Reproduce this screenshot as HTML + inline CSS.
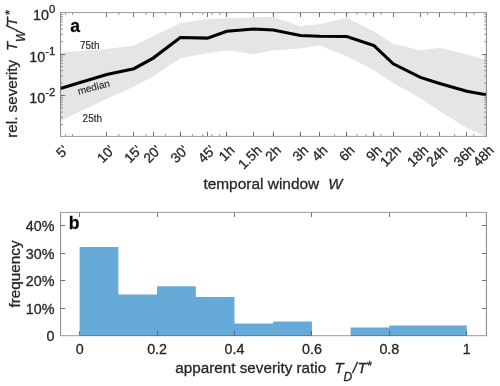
<!DOCTYPE html>
<html><head><meta charset="utf-8"><title>figure</title>
<style>html,body{margin:0;padding:0;background:#fff;}body{width:500px;height:386px;overflow:hidden;position:relative;font-family:"Liberation Sans",sans-serif;}</style>
</head><body>
<svg width="500" height="386" viewBox="0 0 500 386" style="position:absolute;left:0;top:0;will-change:transform">
<polygon fill="#e5e5e5" points="60.3,52.4 106.73,49 133.9,45.6 153.17,36 180.33,23.2 207.49,19.1 226.77,18.3 253.93,17.3 273.2,17 300.36,26.1 319.63,24.3 346.8,17.8 373.96,31.6 393.23,43.8 420.39,50.4 439.67,47.7 466.83,54.5 486.1,59.8 486.1,136.4 466.83,127.9 439.67,111 420.39,98.2 393.23,83 373.96,70.3 346.8,56.3 319.63,45.6 300.36,48.5 273.2,50.3 253.93,54.2 226.77,50.3 207.49,52.9 180.33,58.2 153.17,76.3 133.9,86.7 106.73,98.8 60.3,121"/>
<polyline fill="none" stroke="#000" stroke-width="3.1" stroke-linejoin="miter" points="60.3,88.6 106.73,74.6 133.9,68.7 153.17,58.1 180.33,37.5 207.49,38.1 226.77,31.3 253.93,29 273.2,30 300.36,35.5 319.63,36.3 346.8,36.5 373.96,45.6 393.23,63.8 420.39,77.4 439.67,83.4 466.83,91.2 486.1,94.7"/>
<path d="M65.46 136.4v-2.3M65.46 12.6v2.3M72.51 136.4v-2.3M72.51 12.6v2.3M118.95 136.4v-2.3M118.95 12.6v2.3M146.11 136.4v-2.3M146.11 12.6v2.3M165.38 136.4v-2.3M165.38 12.6v2.3M180.33 136.4v-2.3M180.33 12.6v2.3M192.55 136.4v-2.3M192.55 12.6v2.3M202.87 136.4v-2.3M202.87 12.6v2.3M211.82 136.4v-2.3M211.82 12.6v2.3M219.71 136.4v-2.3M219.71 12.6v2.3M226.77 136.4v-2.3M226.77 12.6v2.3M273.2 136.4v-2.3M273.2 12.6v2.3M300.36 136.4v-2.3M300.36 12.6v2.3M319.63 136.4v-2.3M319.63 12.6v2.3M334.58 136.4v-2.3M334.58 12.6v2.3M346.8 136.4v-2.3M346.8 12.6v2.3M357.12 136.4v-2.3M357.12 12.6v2.3M366.07 136.4v-2.3M366.07 12.6v2.3M373.96 136.4v-2.3M373.96 12.6v2.3M381.02 136.4v-2.3M381.02 12.6v2.3M427.45 136.4v-2.3M427.45 12.6v2.3M454.61 136.4v-2.3M454.61 12.6v2.3M473.89 136.4v-2.3M473.89 12.6v2.3M60.6 41.61h2.3M486.4 41.61h-2.3M60.6 34.3h2.3M486.4 34.3h-2.3M60.6 29.11h2.3M486.4 29.11h-2.3M60.6 25.09h2.3M486.4 25.09h-2.3M60.6 21.81h2.3M486.4 21.81h-2.3M60.6 19.03h2.3M486.4 19.03h-2.3M60.6 16.62h2.3M486.4 16.62h-2.3M60.6 14.5h2.3M486.4 14.5h-2.3M60.6 83.11h2.3M486.4 83.11h-2.3M60.6 75.8h2.3M486.4 75.8h-2.3M60.6 70.61h2.3M486.4 70.61h-2.3M60.6 66.59h2.3M486.4 66.59h-2.3M60.6 63.31h2.3M486.4 63.31h-2.3M60.6 60.53h2.3M486.4 60.53h-2.3M60.6 58.12h2.3M486.4 58.12h-2.3M60.6 56h2.3M486.4 56h-2.3M60.6 124.61h2.3M486.4 124.61h-2.3M60.6 117.3h2.3M486.4 117.3h-2.3M60.6 112.11h2.3M486.4 112.11h-2.3M60.6 108.09h2.3M486.4 108.09h-2.3M60.6 104.81h2.3M486.4 104.81h-2.3M60.6 102.03h2.3M486.4 102.03h-2.3M60.6 99.62h2.3M486.4 99.62h-2.3M60.6 97.5h2.3M486.4 97.5h-2.3" stroke="#6c6c6c" stroke-width="0.7" fill="none"/>
<path d="M106.5 136.4v-4.6M106.5 12.6v4.6M133.5 136.4v-4.6M133.5 12.6v4.6M153.5 136.4v-4.6M153.5 12.6v4.6M180.5 136.4v-4.6M180.5 12.6v4.6M207.5 136.4v-4.6M207.5 12.6v4.6M226.5 136.4v-4.6M226.5 12.6v4.6M253.5 136.4v-4.6M253.5 12.6v4.6M273.5 136.4v-4.6M273.5 12.6v4.6M300.5 136.4v-4.6M300.5 12.6v4.6M319.5 136.4v-4.6M319.5 12.6v4.6M346.5 136.4v-4.6M346.5 12.6v4.6M373.5 136.4v-4.6M373.5 12.6v4.6M393.5 136.4v-4.6M393.5 12.6v4.6M420.5 136.4v-4.6M420.5 12.6v4.6M439.5 136.4v-4.6M439.5 12.6v4.6M466.5 136.4v-4.6M466.5 12.6v4.6M60.6 54.5h4.6M486.4 54.5h-4.6M60.6 95.5h4.6M486.4 95.5h-4.6" stroke="#4c4c4c" stroke-width="0.8" fill="none"/>
<path d="M60.15 12.6H486.85M60.15 136.4H486.85" stroke="#8e8e8e" stroke-width="0.9" fill="none"/>
<path d="M60.6 12.6V136.4M486.4 12.6V136.4" stroke="#787878" stroke-width="0.9" fill="none"/>
<path d="M79.5 335.7v-4.6M79.5 212.4v4.6M157.5 335.7v-4.6M157.5 212.4v4.6M234.5 335.7v-4.6M234.5 212.4v4.6M311.5 335.7v-4.6M311.5 212.4v4.6M389.5 335.7v-4.6M389.5 212.4v4.6M466.5 335.7v-4.6M466.5 212.4v4.6M60.6 308.5h4.6M486.4 308.5h-4.6M60.6 280.5h4.6M486.4 280.5h-4.6M60.6 253.5h4.6M486.4 253.5h-4.6M60.6 225.5h4.6M486.4 225.5h-4.6" stroke="#4c4c4c" stroke-width="0.8" fill="none"/>
<path d="M60.15 212.4H486.85M60.15 335.7H486.85" stroke="#8e8e8e" stroke-width="0.9" fill="none"/>
<path d="M60.6 212.4V335.7M486.4 212.4V335.7" stroke="#787878" stroke-width="0.9" fill="none"/>
<path d="M79.65 335.9L79.65 246.88L118.36 246.88L118.36 294.45L157.07 294.45L157.07 286.2L195.78 286.2L195.78 296.93L234.49 296.93L234.49 323.6L273.2 323.6L273.2 321.4L311.91 321.4L311.91 335.9L350.62 335.9L350.62 327.45L389.33 327.45L389.33 325.39L466.75 325.39L466.75 335.9Z" fill="#0072bd" fill-opacity="0.6"/>
<g fill="#262626" stroke="#262626" stroke-width="0.3" style="font-family:'Liberation Sans',sans-serif">
<text font-size="13.8" text-anchor="end" transform="translate(69 151.1) rotate(-45)">5'</text>
<text font-size="13.8" text-anchor="end" transform="translate(115.43 151.1) rotate(-45)">10'</text>
<text font-size="13.8" text-anchor="end" transform="translate(142.6 151.1) rotate(-45)">15'</text>
<text font-size="13.8" text-anchor="end" transform="translate(161.87 151.1) rotate(-45)">20'</text>
<text font-size="13.8" text-anchor="end" transform="translate(189.03 151.1) rotate(-45)">30'</text>
<text font-size="13.8" text-anchor="end" transform="translate(216.19 151.1) rotate(-45)">45'</text>
<text font-size="13.8" text-anchor="end" transform="translate(235.47 151.1) rotate(-45)">1h</text>
<text font-size="13.8" text-anchor="end" transform="translate(262.63 151.1) rotate(-45)">1.5h</text>
<text font-size="13.8" text-anchor="end" transform="translate(281.9 151.1) rotate(-45)">2h</text>
<text font-size="13.8" text-anchor="end" transform="translate(309.06 151.1) rotate(-45)">3h</text>
<text font-size="13.8" text-anchor="end" transform="translate(328.33 151.1) rotate(-45)">4h</text>
<text font-size="13.8" text-anchor="end" transform="translate(355.5 151.1) rotate(-45)">6h</text>
<text font-size="13.8" text-anchor="end" transform="translate(382.66 151.1) rotate(-45)">9h</text>
<text font-size="13.8" text-anchor="end" transform="translate(401.93 151.1) rotate(-45)">12h</text>
<text font-size="13.8" text-anchor="end" transform="translate(429.09 151.1) rotate(-45)">18h</text>
<text font-size="13.8" text-anchor="end" transform="translate(448.37 151.1) rotate(-45)">24h</text>
<text font-size="13.8" text-anchor="end" transform="translate(475.53 151.1) rotate(-45)">36h</text>
<text font-size="13.8" text-anchor="end" transform="translate(494.8 151.1) rotate(-45)">48h</text>
<text font-size="14.3" x="55.3" y="20" text-anchor="end">10<tspan dy="-6.8" font-size="11.4">0</tspan></text>
<text font-size="14.3" x="55.3" y="61.5" text-anchor="end">10<tspan dy="-6.8" font-size="11.4">-1</tspan></text>
<text font-size="14.3" x="55.3" y="103" text-anchor="end">10<tspan dy="-6.8" font-size="11.4">-2</tspan></text>
<text font-size="15.45" x="203.4" y="188.6">temporal window</text>
<text font-size="15" font-style="italic" x="328.2" y="188.6">W</text>
<g transform="translate(16.7 137) rotate(-90)" font-size="15">
<text x="-0.8" y="0" font-size="15.25">rel. severity</text>
<g font-style="italic"><text x="86" y="0">T</text><text x="95.1" y="8" font-size="12">W</text><text x="106.7" y="0">/</text><text x="110.6" y="0">T</text><text x="121.5" y="-2.7" font-size="13">*</text></g>
</g>
<text font-size="17.5" font-weight="bold" x="70.2" y="32.4" fill="#000">a</text>
<text font-size="10" x="80" y="48.5" stroke-width="0.15">75th</text>
<text font-size="10" x="82.6" y="122" stroke-width="0.15">25th</text>
<text font-size="10" transform="translate(78.7 94.7) rotate(-15)" stroke-width="0.15">median</text>
<text font-size="14.3" x="54.4" y="341.3" text-anchor="end">0</text>
<text font-size="14.3" x="54.4" y="313.8" text-anchor="end">10%</text>
<text font-size="14.3" x="54.4" y="286.3" text-anchor="end">20%</text>
<text font-size="14.3" x="54.4" y="258.8" text-anchor="end">30%</text>
<text font-size="14.3" x="54.4" y="231.3" text-anchor="end">40%</text>
<text font-size="14.3" x="79.65" y="354.4" text-anchor="middle">0</text>
<text font-size="14.3" x="157.07" y="354.4" text-anchor="middle">0.2</text>
<text font-size="14.3" x="234.49" y="354.4" text-anchor="middle">0.4</text>
<text font-size="14.3" x="311.91" y="354.4" text-anchor="middle">0.6</text>
<text font-size="14.3" x="389.33" y="354.4" text-anchor="middle">0.8</text>
<text font-size="14.3" x="466.75" y="354.4" text-anchor="middle">1</text>
<g font-size="15">
<text x="175.3" y="372.5" font-size="15.25">apparent severity ratio</text>
<g font-style="italic"><text x="334.6" y="372.6">T</text><text x="343.6" y="380.6" font-size="12">D</text><text x="352.8" y="372.6">/</text><text x="357.4" y="372.6">T</text><text x="366.4" y="370.2" font-size="13">*</text></g>
</g>
<text font-size="15.3" transform="translate(19.5 307.6) rotate(-90)">frequency</text>
<text font-size="17.5" font-weight="bold" x="68.8" y="229.3" fill="#000">b</text>
</g>
</svg>
</body></html>
